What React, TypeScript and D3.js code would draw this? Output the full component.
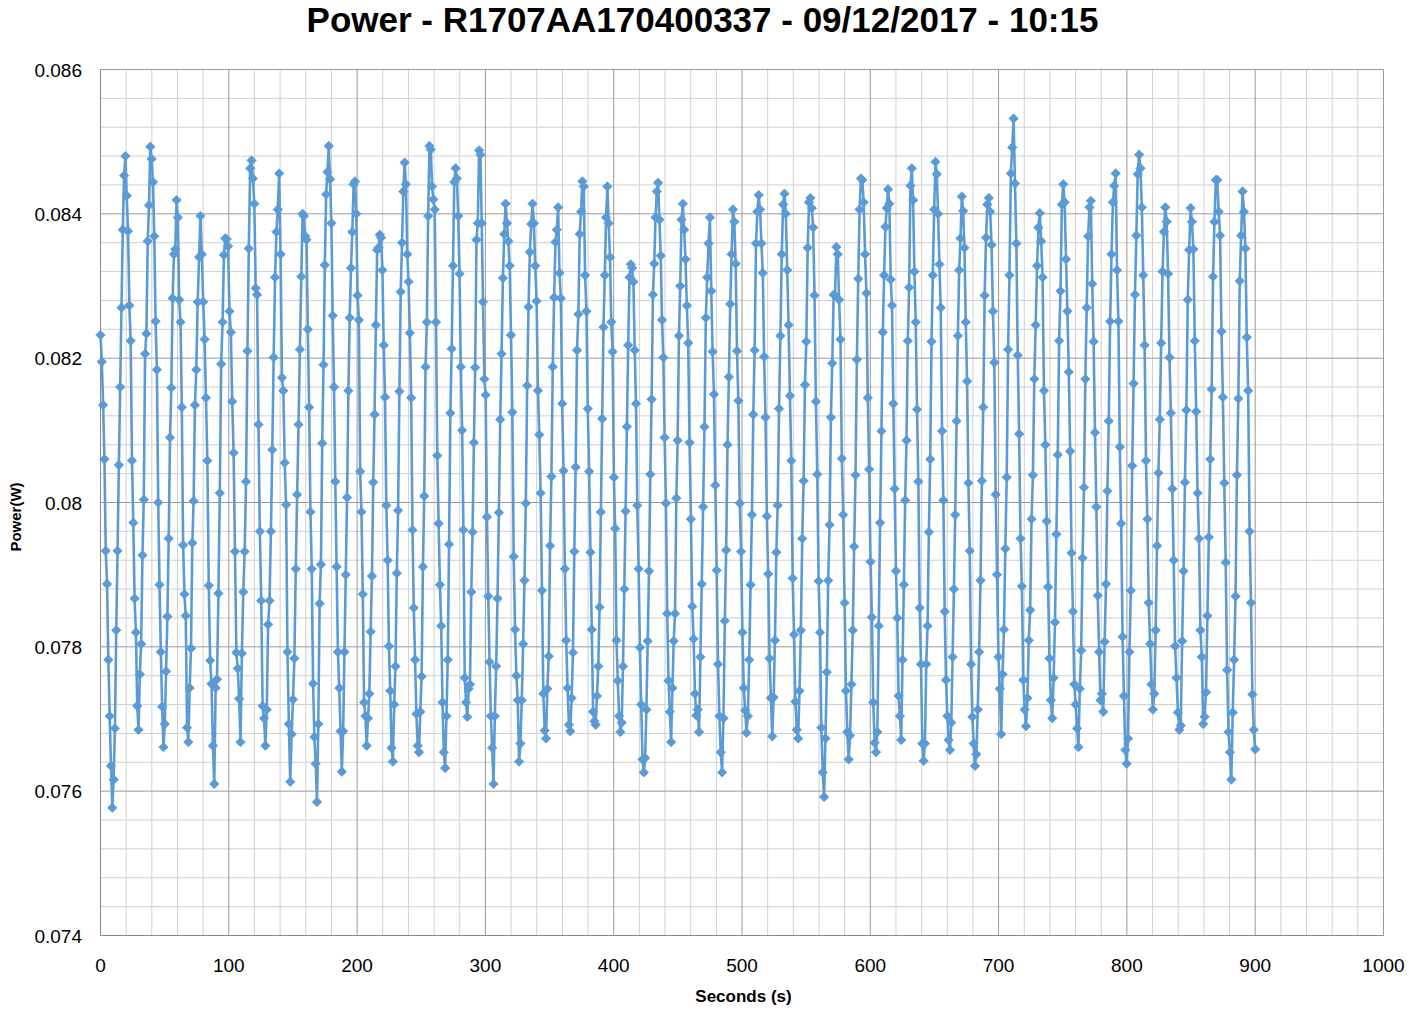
import React from "react";
import * as d3 from "d3";

const TITLE = "Power - R1707AA170400337 - 09/12/2017 - 10:15";
const X_LABEL = "Seconds (s)";
const Y_LABEL = "Power(W)";
const X_TICKS = [0, 100, 200, 300, 400, 500, 600, 700, 800, 900, 1000];
const Y_TICKS = [0.074, 0.076, 0.078, 0.08, 0.082, 0.084, 0.086];
const END_SECONDS = 900;

// Power readings in milliwatts (value / 1000 = W)
const seg01 = [82.32, 81.95, 81.35, 80.6, 79.33, 78.87, 77.82, 77.04, 76.35, 75.77, 76.16, 76.87, 78.23, 79.33, 80.52, 81.6, 82.7, 83.78, 84.53, 84.8, 84.25, 83.76, 82.73, 82.24, 80.58, 79.72, 78.67, 78.2, 77.18, 76.85, 77.62, 78.04, 79.27, 80.04, 82.06, 82.34, 83.62, 84.12, 84.93, 84.76, 84.44, 83.69, 82.51, 81.84, 80.0, 78.86, 77.93, 77.17, 76.61, 76.93, 77.66, 78.42, 79.5, 80.9, 81.59, 82.83, 83.44, 83.51, 84.19, 83.95, 82.81, 82.5, 81.32, 79.41, 78.73, 78.43, 76.88, 76.68, 77.43, 77.98, 79.44, 80.02];
const seg02 = [81.35, 81.84, 82.78, 83.4, 83.97, 83.44, 82.78, 82.26, 81.45, 80.58, 78.85, 77.81, 77.49, 76.63, 76.1, 77.43, 77.55, 78.74, 80.13, 81.92, 82.5, 83.43, 83.66, 83.65, 83.55, 82.65, 82.36, 81.4, 80.69, 79.32, 77.92, 77.7, 77.28, 76.68, 77.91, 78.76, 79.32, 80.29, 82.1, 83.52, 84.63, 84.74, 84.49, 84.14, 82.97, 82.88, 81.08, 79.6, 78.64, 77.18, 77.01, 76.63, 77.13, 78.31, 78.64, 79.6, 80.73, 82.01, 83.12, 83.75, 84.06, 84.56, 83.44, 81.73, 81.55, 80.55, 79.97, 77.93, 76.93, 76.13, 76.79, 77.27, 77.84, 79.08, 80.11, 81.08, 82.12];
const seg03 = [83.13, 84.0, 83.97, 83.69, 83.64, 82.4, 81.32, 79.87, 79.08, 77.49, 76.75, 76.38, 75.85, 76.93, 78.6, 79.14, 80.82, 81.91, 83.29, 84.27, 84.58, 84.94, 84.48, 83.87, 82.59, 81.6, 80.29, 79.11, 77.93, 77.43, 76.83, 76.27, 76.83, 77.93, 79.0, 80.07, 81.55, 82.56, 83.25, 83.75, 84.41, 84.45, 84.0, 82.87, 82.53, 80.43, 79.87, 78.73, 77.23, 77.04, 76.63, 77.01, 77.35, 78.21, 78.98, 80.28, 81.22, 82.46, 83.5, 83.53, 83.71, 83.67, 83.22, 82.18, 81.46, 79.96, 79.2, 78.01, 77.39, 76.6, 76.41];
const seg04 = [77.2, 77.73, 79.02, 79.89, 81.54, 82.92, 83.6, 84.31, 84.71, 84.41, 83.44, 83.06, 82.35, 81.45, 79.62, 78.54, 77.82, 77.07, 76.63, 76.54, 77.1, 77.59, 79.11, 80.09, 81.88, 82.5, 83.97, 84.94, 84.89, 84.38, 84.2, 84.06, 82.5, 80.65, 79.71, 78.86, 78.29, 77.23, 76.54, 76.32, 77.04, 77.82, 79.42, 81.24, 82.13, 83.28, 84.44, 84.63, 84.49, 83.97, 83.17, 81.88, 81.0, 79.62, 77.57, 77.23, 77.03, 77.42, 77.48, 78.76, 79.59, 80.83, 81.87, 83.64, 83.87, 84.88, 84.82, 83.87, 82.78, 81.71, 81.49, 79.8, 78.7, 77.79, 77.04, 76.6];
const seg05 = [76.1, 77.04, 77.73, 78.67, 79.86, 81.15, 82.06, 83.11, 83.72, 84.14, 83.87, 83.62, 83.28, 82.32, 81.25, 79.25, 78.24, 77.6, 77.26, 76.41, 76.66, 77.26, 78.04, 78.92, 79.99, 81.62, 82.71, 83.47, 83.86, 84.14, 83.87, 83.28, 82.79, 81.55, 80.94, 80.13, 78.78, 77.35, 76.84, 76.73, 77.42, 77.87, 79.4, 80.36, 81.88, 82.84, 83.61, 83.78, 84.09, 83.18, 82.83, 81.37, 80.44, 79.08, 78.09, 77.43, 76.92, 76.83, 77.29, 77.92, 79.32, 80.49, 82.11, 82.61, 83.72, 84.03, 84.45, 84.38, 83.15, 82.65, 81.3, 80.43];
const seg06 = [79.31, 78.24, 77.1, 76.97, 76.92, 77.32, 77.73, 78.55, 79.87, 81.16, 82.43, 83.15, 83.95, 84.38, 83.87, 83.4, 82.5, 82.09, 80.35, 79.64, 78.09, 77.53, 77.04, 76.82, 76.95, 77.73, 78.8, 79.88, 81.05, 82.18, 83.12, 83.3, 83.25, 83.06, 82.11, 81.37, 79.96, 79.08, 77.99, 77.2, 76.44, 76.26, 76.46, 77.13, 78.08, 79.05, 80.39, 81.43, 82.88, 83.31, 83.95, 84.31, 84.43, 83.92, 83.42, 82.53, 82.01, 80.9, 79.99, 78.46, 77.53, 77.1, 76.68, 77.43, 78.08, 78.46, 80.06, 80.86, 82.31, 83.0, 83.92, 84.14];
const seg07 = [83.78, 83.37, 82.73, 82.21, 80.83, 79.77, 78.56, 78.11, 77.35, 77.05, 77.13, 76.82, 77.86, 78.87, 79.94, 81.05, 82.56, 83.12, 83.59, 83.95, 82.93, 82.09, 81.5, 80.24, 79.06, 77.76, 77.04, 76.54, 76.26, 77.01, 78.36, 79.34, 80.8, 81.74, 82.75, 83.44, 84.06, 83.89, 83.31, 82.1, 81.41, 79.99, 79.32, 78.2, 77.43, 77.12, 76.81, 77.04, 77.82, 78.86, 79.83, 81.22, 82.11, 83.59, 84.03, 84.26, 84.06, 83.59, 83.18, 82.02, 81.18, 79.81, 79.01, 77.84, 77.29, 76.76, 77.3, 78.09, 79.31, 79.96, 81.3, 82.31, 83.44, 84.13];
const seg08 = [84.28, 84.0, 83.22, 82.46, 81.48, 80.58, 78.95, 78.17, 77.24, 76.85, 76.73, 77.39, 78.23, 79.5, 80.3, 81.63, 82.23, 83.53, 84.16, 84.22, 84.08, 83.81, 82.87, 81.4, 80.39, 78.91, 78.2, 76.88, 76.26, 75.92, 76.73, 77.65, 78.92, 79.69, 81.18, 81.93, 82.88, 82.87, 83.54, 83.44, 82.81, 82.26, 80.61, 79.83, 78.61, 77.39, 76.82, 76.44, 76.77, 77.48, 78.23, 79.39, 80.38, 81.98, 83.1, 84.06, 84.49, 84.47, 84.16, 83.44, 82.9, 81.45, 80.46, 79.18, 78.41, 77.23, 76.67, 76.54, 76.82, 78.29, 79.72];
const seg09 = [80.99, 82.36, 83.15, 83.82, 84.08, 84.34, 84.14, 83.09, 82.73, 81.37, 80.19, 79.05, 78.4, 77.32, 77.04, 76.71, 77.82, 78.86, 80.03, 80.86, 82.24, 82.98, 84.39, 84.63, 84.19, 83.2, 82.5, 81.29, 80.29, 78.54, 77.76, 76.66, 76.42, 76.66, 77.76, 78.29, 79.59, 80.6, 82.23, 83.15, 84.06, 84.72, 84.55, 84.0, 83.3, 82.7, 80.99, 80.03, 78.49, 77.54, 77.04, 76.71, 76.57, 76.95, 77.86, 78.8, 79.83, 81.13, 82.31, 83.22, 83.66, 84.24, 84.04, 83.53, 82.5, 81.68, 80.27, 79.33, 77.76, 77.03, 76.66];
const seg10 = [76.35, 76.51, 77.13, 77.93, 78.92, 80.3, 81.32, 82.87, 83.67, 84.13, 84.22, 84.03, 83.57, 82.65, 81.94, 80.11, 79.0, 77.86, 77.42, 76.79, 77.62, 78.24, 79.36, 80.35, 82.12, 83.15, 84.56, 84.92, 85.32, 84.42, 83.59, 82.04, 80.95, 79.5, 78.84, 77.54, 77.13, 76.9, 77.29, 78.09, 78.51, 79.77, 80.38, 81.71, 82.46, 83.28, 83.81, 84.01, 83.62, 83.12, 81.55, 80.8, 79.74, 78.83, 77.84, 77.26, 77.01, 77.57, 78.34, 79.56, 80.66, 82.24, 82.93, 84.13, 84.41, 84.16, 83.37, 82.65, 81.81, 80.71, 79.3, 78.49];
const seg11 = [77.48, 77.2, 76.87, 76.61, 77.42, 77.95, 79.23, 80.21, 81.71, 82.7, 83.69, 84.09, 84.18, 83.03, 82.23, 80.97, 79.94, 78.71, 77.93, 77.26, 77.35, 77.1, 78.07, 78.87, 80.16, 81.13, 82.51, 83.44, 84.16, 84.39, 84.56, 83.22, 82.51, 80.77, 79.71, 78.14, 77.32, 76.57, 76.38, 76.73, 77.93, 78.78, 80.51, 81.65, 82.88, 83.7, 84.55, 84.82, 84.63, 84.09, 83.15, 82.18, 80.58, 79.77, 78.61, 78.04, 77.48, 77.13, 77.35, 78.23, 79.4, 80.41, 81.15, 82.21, 83.2, 83.75, 84.09];
const seg12 = [83.89, 83.17, 82.01, 81.24, 80.19, 79.2, 78.01, 77.57, 77.09, 76.85, 76.91, 78.08, 79.05, 80.28, 81.28, 82.81, 83.5, 84.08, 83.89, 83.51, 82.24, 81.26, 80.13, 79.5, 78.23, 77.86, 76.93, 77.03, 77.37, 78.43, 79.52, 80.6, 81.57, 83.13, 83.89, 84.47, 84.47, 84.03, 83.7, 82.37, 81.46, 80.27, 79.17, 77.68, 76.82, 76.54, 76.16, 77.09, 77.82, 78.7, 80.38, 81.44, 83.07, 83.7, 84.31, 84.03, 83.52, 82.29, 81.55, 79.6, 78.61, 77.34, 76.85, 76.58];

// Time (s) of the first reading of each segment
const segStartSeconds = [0, 73.6, 156.5, 228.9, 306.3, 381.9, 454.9, 533.1, 608.7, 681.6, 759.0, 831.0];
const segments = [seg01, seg02, seg03, seg04, seg05, seg06, seg07, seg08, seg09, seg10, seg11, seg12];

const W = 1409;
const H = 1013;
const M = { left: 100.5, right: 1383.5, top: 69.5, bottom: 935.5 };
const BLUE = "#5B9BD5";
const FONT = "'Liberation Sans', Arial, sans-serif";

type Pt = { t: number; p: number };

function buildData(): Pt[] {
  const out: Pt[] = [];
  segments.forEach((seg, k) => {
    const start = segStartSeconds[k];
    const last = k === segments.length - 1;
    const end = last ? END_SECONDS : segStartSeconds[k + 1];
    const step = last ? (end - start) / (seg.length - 1) : (end - start) / seg.length;
    seg.forEach((v, j) => out.push({ t: start + j * step, p: v / 1000 }));
  });
  return out;
}

export default function App() {
  const data = buildData();

  const x = d3.scaleLinear().domain([0, 1000]).range([M.left, M.right]);
  const y = d3.scaleLinear().domain([0.074, 0.086]).range([M.bottom, M.top]);

  const minorX = d3.range(0, 1000.001, 20).filter((v) => v % 100 !== 0);
  const minorY = d3.range(0, 31).map((i) => 0.074 + i * 0.0004).filter((_, i) => i % 5 !== 0);

  const line = d3
    .line<Pt>()
    .x((d) => x(d.t))
    .y((d) => y(d.p));

  const r = 4.7;
  const diamonds = data
    .map((d) => {
      const cx = x(d.t);
      const cy = y(d.p);
      return `M${cx},${cy - r}L${cx + r},${cy}L${cx},${cy + r}L${cx - r},${cy}Z`;
    })
    .join("");

  return (
    <svg
      width={W}
      height={H}
      style={{ position: "absolute", left: 0, top: 0, background: "#fff" }}
      fontFamily={FONT}
    >
      <rect x={0} y={0} width={W} height={H} fill="#fff" />
      {minorX.map((v) => (
        <line key={"mx" + v} x1={x(v)} x2={x(v)} y1={M.top} y2={M.bottom} stroke="#D0D0D0" strokeWidth={1} />
      ))}
      {minorY.map((v, i) => (
        <line key={"my" + i} x1={M.left} x2={M.right} y1={y(v)} y2={y(v)} stroke="#D0D0D0" strokeWidth={1} />
      ))}
      {X_TICKS.map((v) => (
        <line key={"gx" + v} x1={x(v)} x2={x(v)} y1={M.top} y2={M.bottom} stroke="#9A9A9A" strokeWidth={1} />
      ))}
      {Y_TICKS.map((v) => (
        <line key={"gy" + v} x1={M.left} x2={M.right} y1={y(v)} y2={y(v)} stroke="#9A9A9A" strokeWidth={1} />
      ))}
      <line x1={M.left} x2={M.left} y1={M.top} y2={M.bottom} stroke="#8A8A8A" strokeWidth={1} />
      <line x1={M.left} x2={M.right} y1={M.bottom} y2={M.bottom} stroke="#8A8A8A" strokeWidth={1} />

      {Y_TICKS.map((v) => (
        <text key={"ty" + v} x={82} y={y(v) + 7} textAnchor="end" fontSize={19} fill="#000">
          {d3.format(".3~f")(v)}
        </text>
      ))}
      {X_TICKS.map((v) => (
        <text key={"tx" + v} x={x(v)} y={972} textAnchor="middle" fontSize={19} fill="#000">
          {v}
        </text>
      ))}

      <path d={line(data) || ""} fill="none" stroke={BLUE} strokeWidth={2.6} strokeLinejoin="round" />
      <path d={diamonds} fill={BLUE} stroke={BLUE} strokeWidth={0.8} />

      <text x={702.5} y={32} textAnchor="middle" fontSize={35} fontWeight="bold" fill="#000">
        {TITLE}
      </text>
      <text x={743.5} y={1002} textAnchor="middle" fontSize={17} fontWeight="bold" fill="#000">
        {X_LABEL}
      </text>
      <text
        transform={`translate(21,${517}) rotate(-90)`}
        textAnchor="middle"
        fontSize={15}
        fontWeight="bold"
        fill="#000"
      >
        {Y_LABEL}
      </text>
    </svg>
  );
}
